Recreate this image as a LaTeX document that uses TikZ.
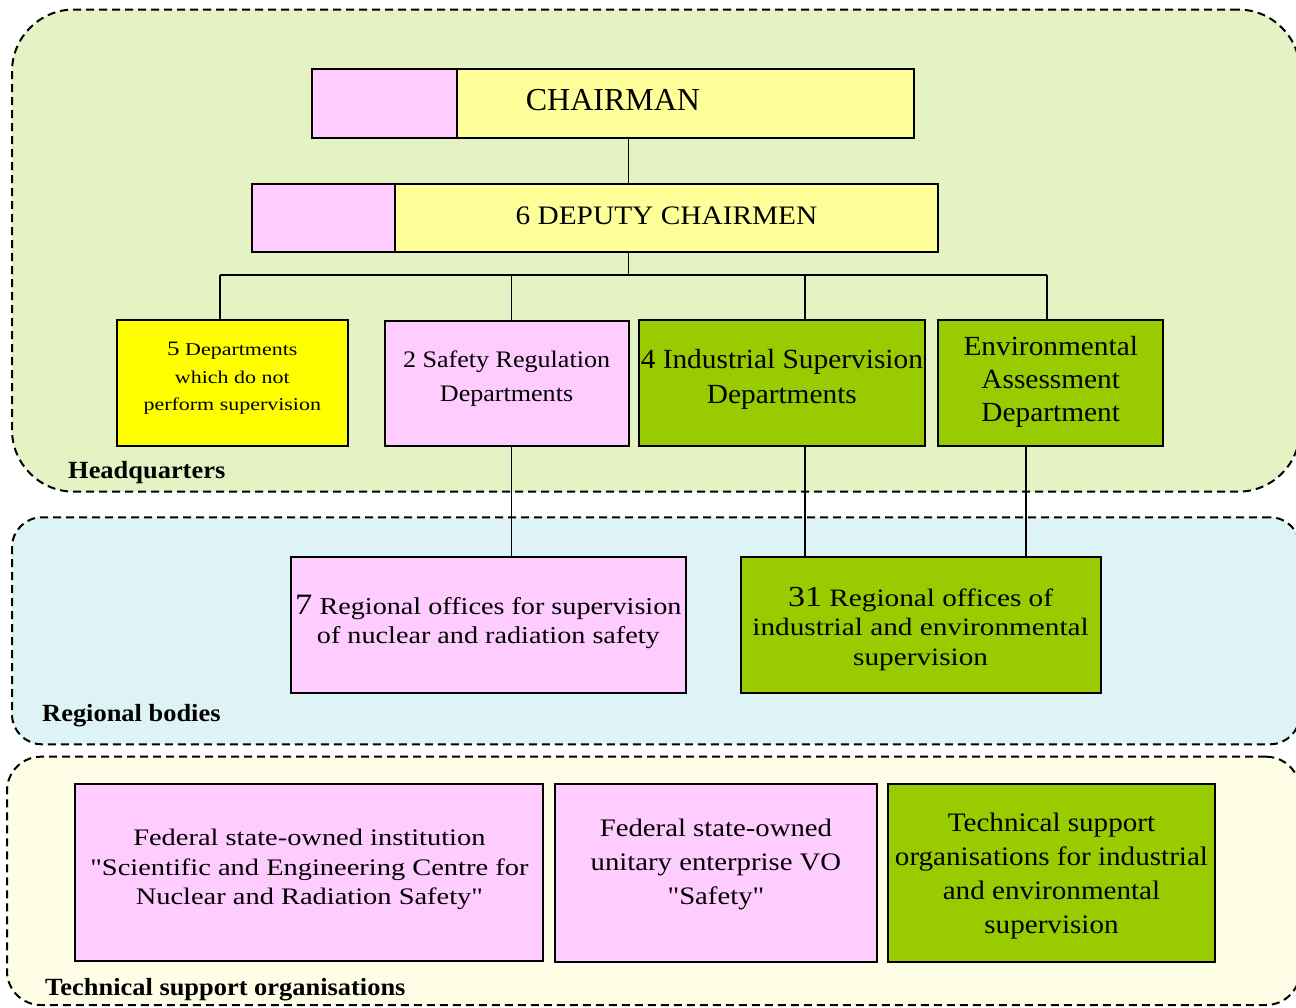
\documentclass[tikz,border=0pt]{standalone}
\usepackage{fontspec}
\setmainfont{Liberation Serif}[Ligatures=TeXOff]
\newcommand\fnt[3]{\fontsize{#1}{#2}\selectfont\addfontfeature{FakeStretch=#3}}
\newcommand\tb[1]{\begin{tabular}[t]{@{}c@{}}#1\end{tabular}}
\definecolor{pinkbox}{HTML}{FFCCFF}
\definecolor{paleyel}{HTML}{FFFF99}
\definecolor{yelbox}{HTML}{FFFF00}
\definecolor{greenbox}{HTML}{99CC00}
\definecolor{hqbg}{HTML}{E4F2C4}
\definecolor{regbg}{HTML}{DDF3F6}
\definecolor{tecbg}{HTML}{FEFEE6}
\tikzset{
  box/.style={draw=black, line width=2pt, inner sep=0pt, outer sep=0pt, anchor=north west, minimum height=0pt, text=black},
  conn/.style={draw=black, line width=1.5pt},
  region/.style={draw=black, line width=2pt, dash pattern=on 8pt off 5pt, inner sep=0pt, outer sep=0pt, anchor=north west},
  lab/.style={anchor=base west, inner sep=0pt, font=\bfseries\fnt{24.7}{28}{1.07}}
}
\begin{document}
\begin{tikzpicture}[x=1pt,y=-1pt]
\useasboundingbox (0,0) rectangle (1296,1007);
\clip (0,0) rectangle (1296,1007);
% regions
\node[region, fill=hqbg, rounded corners=62pt, minimum width=1288pt, minimum height=482.2pt] (hq) at (12,9.5) {};
\node[region, fill=regbg, rounded corners=30pt, minimum width=1288pt, minimum height=227pt] (reg) at (12,517.3) {};
\node[region, fill=tecbg, rounded corners=34pt, minimum width=1293pt, minimum height=248.3pt] (tec) at (7,756.7) {};
\node[lab] (hqlab) at (68,478.5) {Headquarters};
\node[lab] (reglab) at (42,721.7) {Regional bodies};
\node[lab] (teclab) at (45,995) {Technical support organisations};
% connector coordinates
\coordinate (j) at (628.4,275);
\coordinate (bL) at (220,275);
\coordinate (bS) at (511.4,275);
\coordinate (bI) at (805,275);
\coordinate (bR) at (1047,275);
\coordinate (eD) at (1026,275);
% boxes
\node[box, fill=paleyel, minimum width=602pt, text height=41.4pt, text depth=27pt, font=\fnt{32}{36}{1.0}] (chair) at (312,69.3) {CHAIRMAN};
\node[box, fill=pinkbox, minimum width=144.7pt, minimum height=68.4pt] (chairP) at (312,69.3) {};
\node[box, fill=paleyel, minimum width=543pt, text height=40.3pt, text depth=27.7pt, font=\fnt{26.7}{30}{1.1}] (depY) at (395,184) {6 DEPUTY CHAIRMEN};
\node[box, fill=pinkbox, minimum width=143.5pt, minimum height=68pt] (depP) at (251.5,184) {};
\node[box, fill=yelbox, minimum width=230.6pt, text height=35.7pt, text depth=90.3pt, font=\fnt{18}{27.3}{1.22}] (d5) at (117,320)
  {\tb{{\fontsize{20.5}{27.3}\selectfont 5} Departments\\which do not\\perform supervision}};
\node[box, fill=pinkbox, minimum width=244.1pt, text height=46.6pt, text depth=78.7pt, font=\fnt{23.7}{34.4}{1.1}] (safety) at (384.5,320.7)
  {\tb{2 Safety Regulation\\Departments}};
\node[box, fill=greenbox, minimum width=286.7pt, text height=48.3pt, text depth=77.7pt, font=\fnt{27.7}{35}{1.06}] (ind) at (638.5,320)
  {\tb{4 Industrial Supervision\\Departments}};
\node[box, fill=greenbox, minimum width=224.7pt, text height=35pt, text depth=91pt, font=\fnt{27.7}{33.3}{1.06}] (env) at (938.4,320)
  {\tb{Environmental\\Assessment\\Department}};
\node[box, fill=pinkbox, minimum width=395.3pt, text height=57.6pt, text depth=79pt, font=\fnt{24.2}{29}{1.165}] (r7) at (290.7,556.7)
  {\tb{{\fontsize{29.6}{29}\selectfont 7} Regional offices for supervision\\of nuclear and radiation safety}};
\node[box, fill=greenbox, minimum width=360pt, text height=50pt, text depth=86.6pt, font=\fnt{25}{29.2}{1.17}] (r31) at (740.6,556.7)
  {\tb{{\fontsize{29}{29.2}\selectfont 31} Regional offices of\\industrial and environmental\\supervision}};
\node[box, fill=pinkbox, minimum width=468pt, text height=61.4pt, text depth=115.6pt, font=\fnt{23.7}{29.3}{1.2}] (t1) at (75.4,784.3)
  {\tb{Federal state-owned institution\\"Scientific and Engineering Centre for\\Nuclear and Radiation Safety"}};
\node[box, fill=pinkbox, minimum width=321.1pt, text height=52.4pt, text depth=124.8pt, font=\fnt{25.2}{34}{1.14}] (t2) at (555.4,784.3)
  {\tb{Federal state-owned\\unitary enterprise VO\\"Safety"}};
\node[box, fill=greenbox, minimum width=327pt, text height=46.7pt, text depth=130.5pt, font=\fnt{26.7}{34}{1.09}] (t3) at (888,784.3)
  {\tb{Technical support\\organisations for industrial\\and environmental\\supervision}};
% connectors
\draw[conn] (chair.south -| j) -- (depY.north -| j);
\draw[conn] (depY.south -| j) -- (j);
\draw[conn] (bL) -- (bR);
\draw[conn] (bL) -- (bL |- d5.north);
\draw[conn] (bS) -- (bS |- safety.north);
\draw[conn] (bI) -- (bI |- ind.north);
\draw[conn] (bR) -- (bR |- env.north);
\draw[conn] (safety.south -| bS) -- (r7.north -| bS);
\draw[conn] (ind.south -| bI) -- (r31.north -| bI);
\draw[conn] (env.south -| eD) -- (r31.north -| eD);
\end{tikzpicture}
\end{document}
